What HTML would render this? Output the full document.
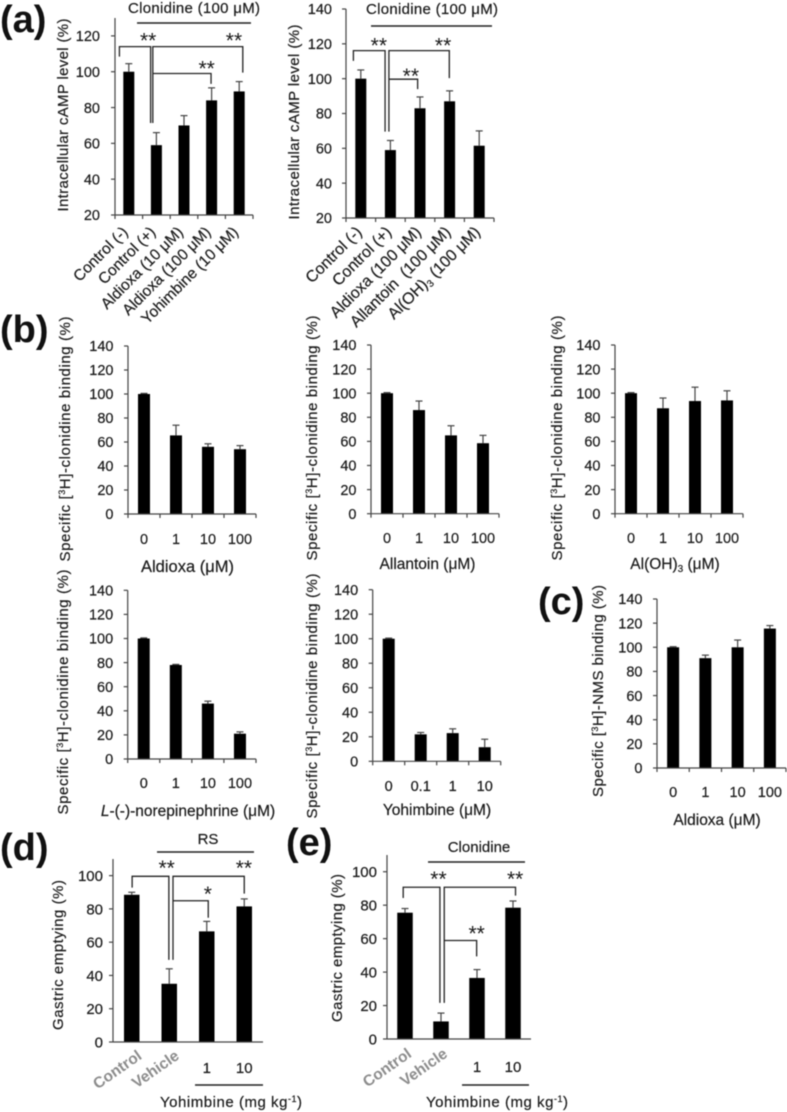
<!DOCTYPE html>
<html>
<head>
<meta charset="utf-8">
<title>Clonidine binding figure</title>
<style>
html,body{margin:0;padding:0;background:#fff;width:787px;height:1112px;overflow:hidden}
svg{display:block;filter:blur(0.45px)}
text{font-family:"Liberation Sans",sans-serif;fill:#1a1a1a;stroke:#1a1a1a;stroke-width:0.2px}
.letter{font-size:38px;font-weight:bold;fill:#111;stroke:none}
.title{font-size:15px}
.xt{font-size:15.5px}
</style>
</head>
<body>
<svg id="figure" width="787" height="1112" viewBox="0 0 787 1112" xmlns="http://www.w3.org/2000/svg">
  <text class="letter" x="0" y="32">(a)</text>
  <text class="letter" x="0" y="342">(b)</text>
  <text class="letter" x="538" y="614">(c)</text>
  <text class="letter" x="0" y="860">(d)</text>
  <text class="letter" x="286" y="855">(e)</text>

  <text class="title" transform="translate(68,115) rotate(-90)" text-anchor="middle" textLength="193">Intracellular cAMP level (%)</text>
  <text class="title" transform="translate(299,122) rotate(-90)" text-anchor="middle" textLength="195">Intracellular cAMP level (%)</text>
  <text class="title" transform="translate(70,439) rotate(-90)" text-anchor="middle" textLength="245">Specific [<tspan dy="-5" font-size="9">3</tspan><tspan dy="5">H]-clonidine binding (%)</tspan></text>
  <text class="title" transform="translate(317,438) rotate(-90)" text-anchor="middle" textLength="245">Specific [<tspan dy="-5" font-size="9">3</tspan><tspan dy="5">H]-clonidine binding (%)</tspan></text>
  <text class="title" transform="translate(562,438) rotate(-90)" text-anchor="middle" textLength="245">Specific [<tspan dy="-5" font-size="9">3</tspan><tspan dy="5">H]-clonidine binding (%)</tspan></text>
  <text class="title" transform="translate(68,692) rotate(-90)" text-anchor="middle" textLength="245">Specific [<tspan dy="-5" font-size="9">3</tspan><tspan dy="5">H]-clonidine binding (%)</tspan></text>
  <text class="title" transform="translate(317,696) rotate(-90)" text-anchor="middle" textLength="245">Specific [<tspan dy="-5" font-size="9">3</tspan><tspan dy="5">H]-clonidine binding (%)</tspan></text>
  <text class="title" transform="translate(603,691) rotate(-90)" text-anchor="middle" textLength="212">Specific [<tspan dy="-5" font-size="9">3</tspan><tspan dy="5">H]-NMS binding (%)</tspan></text>
  <text class="title" transform="translate(63,955) rotate(-90)" text-anchor="middle" textLength="150">Gastric emptying (%)</text>
  <text class="title" transform="translate(342,948) rotate(-90)" text-anchor="middle" textLength="148">Gastric emptying (%)</text>

  <text class="xt" x="187.5" y="572" text-anchor="middle" font-size="16.5" style="font-size:16.5px">Aldioxa (μM)</text>
  <text class="xt" x="427.5" y="569" text-anchor="middle">Allantoin (μM)</text>
  <text class="xt" x="675" y="569" text-anchor="middle">Al(OH)<tspan dy="3" font-size="10">3</tspan><tspan dy="-3"> (μM)</tspan></text>
  <text class="xt" x="188" y="816" text-anchor="middle"><tspan font-style="italic">L</tspan>-(-)-norepinephrine (μM)</text>
  <text class="xt" x="437" y="815" text-anchor="middle">Yohimbine (μM)</text>
  <text class="xt" x="717" y="825" text-anchor="middle">Aldioxa (μM)</text>
  <text class="title" x="231" y="1107" text-anchor="middle" textLength="142">Yohimbine (mg kg<tspan dy="-5" font-size="9">-1</tspan><tspan dy="5">)</tspan></text>
  <text class="title" x="497" y="1107" text-anchor="middle" textLength="142">Yohimbine (mg kg<tspan dy="-5" font-size="9">-1</tspan><tspan dy="5">)</tspan></text>

  <text class="title" x="194" y="13" text-anchor="middle" textLength="132">Clonidine (100 μM)</text>
  <line x1="137" x2="251" y1="23" y2="23" stroke="#222" stroke-width="1.5"/>
  <text class="title" x="432" y="14" text-anchor="middle" textLength="132">Clonidine (100 μM)</text>
  <line x1="371" x2="492" y1="26" y2="26" stroke="#222" stroke-width="1.5"/>
  <text class="title" x="208" y="844" text-anchor="middle">RS</text>
  <line x1="157" x2="254" y1="852" y2="852" stroke="#222" stroke-width="1.5"/>
  <text class="title" x="479" y="852" text-anchor="middle">Clonidine</text>
  <line x1="428" x2="525" y1="862" y2="862" stroke="#222" stroke-width="1.5"/>
  <line x1="195" x2="263" y1="1085" y2="1085" stroke="#222" stroke-width="1.5"/>
  <line x1="462" x2="529" y1="1085" y2="1085" stroke="#222" stroke-width="1.5"/>
</svg>
<script>
// ---- tick labels ----
var a1Ticks = [20, 40, 60, 80, 100, 120];
var a2Ticks = [20, 40, 60, 80, 100, 120, 140];
var bTicks = [0, 20, 40, 60, 80, 100, 120, 140];
var deTicks = [0, 20, 40, 60, 80, 100];

// ---- panel a ----
var a1Categories = ['Control (-)', 'Control (+)', 'Aldioxa (10 μM)', 'Aldioxa (100 μM)', 'Yohimbine (10 μM)'];
var a1Values = [100, 59, 70, 84, 89];
var a1Errors = [4.5, 7, 5.5, 7, 5.5];
var a1Brackets = [[-0.34, 0.79, 114, 108.4, 71.4], [0.87, 4.13, 114, 71.4, 99.5], [0.87, 2.98, 99, 99, 93.2]];
var a1Stars = [[0.70, 118.9, '**'], [3.81, 118.9, '**'], [2.82, 103.2, '**']];

var a2Categories = ['Control (-)', 'Control (+)', 'Aldioxa (100 μM)', 'Allantoin\u00a0 (100 μM)', 'Al(OH)<tspan dy="3" font-size="10">3</tspan><tspan dy="-3"> (100 μM)</tspan>'];
var a2Values = [100, 59, 83, 87, 61.5];
var a2Errors = [5, 5.5, 6.5, 6, 8.5];
var a2Brackets = [[-0.25, 0.82, 116.1, 110.2, 69.6], [0.95, 2.99, 116.1, 69.6, 100.3], [0.95, 1.92, 99.7, 99.7, 94]];
var a2Stars = [[0.61, 120.6, '**'], [2.78, 120.6, '**'], [1.69, 103, '**']];

// ---- panel b ----
var b1Categories = ['0', '1', '10', '100'];
var b1Values = [100, 65.5, 56, 54];
var b1Errors = [0.5, 8.5, 2.5, 3];
var b2Categories = ['0', '1', '10', '100'];
var b2Values = [100, 86, 65, 58.5];
var b2Errors = [0.5, 7.5, 8, 6.5];
var b3Categories = ['0', '1', '10', '100'];
var b3Values = [100, 87.5, 93.5, 94];
var b3Errors = [0.5, 8.5, 11.5, 8];
var b4Categories = ['0', '1', '10', '100'];
var b4Values = [100, 78, 46, 21];
var b4Errors = [0.5, 0.5, 2, 1.5];
var b5Categories = ['0', '0.1', '1', '10'];
var b5Values = [100, 22, 23, 11.5];
var b5Errors = [0.5, 1.5, 3.5, 6.5];

// ---- panel c ----
var cCategories = ['0', '1', '10', '100'];
var cValues = [100, 91, 100, 115.5];
var cErrors = [0.5, 2.5, 6, 2.5];

// ---- panel d ----
var dCategories = ['Control', 'Vehicle', '1', '10'];
var dValues = [88.5, 35, 66.5, 81.5];
var dErrors = [1.5, 9, 6, 4.5];
var dBrackets = [[0.01, 0.99, 99.6, 92.8, 49.4], [1.1, 3, 99.6, 49.4, 89.2], [1.1, 2.04, 84.9, 84.9, 74.7]];
var dStars = [[0.93, 106, '**'], [2.99, 106, '**'], [2.03, 90.5, '*']];

// ---- panel e ----
var eCategories = ['Control', 'Vehicle', '1', '10'];
var eValues = [75.5, 10.5, 36.5, 78.5];
var eErrors = [2.5, 5, 5, 4];
var eBrackets = [[-0.05, 0.97, 90.7, 84.3, 21.6], [1.09, 3.07, 90.7, 21.6, 85.7], [1.09, 1.99, 58.9, 58.9, 49.4]];
var eStars = [[0.93, 97.2, '**'], [3.06, 97.2, '**'], [1.99, 64.5, '**']];

var NS = 'http://www.w3.org/2000/svg';
var figure = document.getElementById('figure');

function mk(parent, tag, attrs) {
  var el = document.createElementNS(NS, tag);
  for (var k in attrs) { el.setAttribute(k, attrs[k]); }
  parent.appendChild(el);
  return el;
}

function drawChart(id, cats, values, errors, ticks, L, brackets, stars) {
  var g = mk(figure, 'g', {});
  
  

  var step = (L.x1 - L.x0) / cats.length;
  function cx(i) { return L.x0 + (i + 0.5) * step; }
  function vy(v) { return L.yBase + (v - L.vMin) * (L.yTop - L.yBase) / (L.vMax - L.vMin); }

  // bars and error bars
  values.forEach(function (v, i) {
    var top = vy(v);
    var errTop = vy(v + errors[i]);
    var stem = mk(g, 'line', { x1: cx(i), x2: cx(i), y1: top, y2: errTop, stroke: '#444', 'stroke-width': 1.2 });
    
    
    var cap = mk(g, 'line', { x1: cx(i) - L.cap, x2: cx(i) + L.cap, y1: errTop, y2: errTop, stroke: '#444', 'stroke-width': 1.2 });
    
    
    var bar = mk(g, 'rect', { x: cx(i) - L.bar / 2, y: top, width: L.bar, height: L.yBase - top, fill: '#000' });
    
    
  });

  // axes
  var yAxis = mk(g, 'line', { x1: L.x0, x2: L.x0, y1: L.yBase, y2: L.yTop, stroke: '#444', 'stroke-width': 1.2 });
  
  
  var xAxis = mk(g, 'line', { x1: L.x0, x2: L.x1, y1: L.yBase, y2: L.yBase, stroke: '#444', 'stroke-width': 1.2 });
  
  

  // y ticks and labels
  ticks.forEach(function (t) {
    var tk = mk(g, 'line', { x1: L.x0 - 4, x2: L.x0, y1: vy(t), y2: vy(t), stroke: '#444', 'stroke-width': 1.2 });
    
    
    var lb = mk(g, 'text', { x: L.x0 - L.tickGap, y: vy(t) + L.tickFont * 0.36, 'text-anchor': 'end', 'font-size': L.tickFont });
    
    
    lb.textContent = t;
  });

  // x ticks
  if (L.xTicks) {
    for (var k = 0; k <= cats.length; k++) {
      var xt = mk(g, 'line', { x1: L.x0 + k * step, x2: L.x0 + k * step, y1: L.yBase, y2: L.yBase + 4, stroke: '#444', 'stroke-width': 1.2 });
      
      
    }
  }

  // category labels
  cats.forEach(function (c, i) {
    var lb;
    if (/^[0-9.]+$/.test(c)) {
      lb = mk(g, 'text', { x: cx(i), y: L.labelY, 'text-anchor': 'middle', 'font-size': L.labelFont });
    } else if (L.grayLabels) {
      var gx = cx(i) + L.grayDx;
      lb = mk(g, 'text', { transform: 'translate(' + gx + ',' + L.grayY + ') rotate(-35)', 'text-anchor': 'end', 'font-size': 15.5, 'font-weight': 'bold', style: 'fill:#8c8c8c;stroke:none' });
    } else {
      lb = mk(g, 'text', { transform: 'translate(' + (cx(i) + L.rotDx) + ',' + L.labelY + ') rotate(-45)', 'text-anchor': 'end', 'font-size': L.labelFont });
    }
    
    
    lb.innerHTML = c;
  });

  // significance brackets: [fromCategory, toCategory, level, endValueLeft, endValueRight]
  (brackets || []).forEach(function (b, i) {
    var x1 = cx(b[0]), x2 = cx(b[1]);
    var d = 'M' + x1 + ' ' + vy(b[3]) + 'L' + x1 + ' ' + vy(b[2]) + 'L' + x2 + ' ' + vy(b[2]) + 'L' + x2 + ' ' + vy(b[4]);
    var p = mk(g, 'path', { d: d, fill: 'none', stroke: '#222', 'stroke-width': 1.3 });
    
    
  });
  (stars || []).forEach(function (s, i) {
    var st = mk(g, 'text', { x: cx(s[0]), y: vy(s[1]) + 9.5, 'text-anchor': 'middle', 'font-size': 21, style: 'stroke:none' });
    
    
    st.textContent = s[2];
  });
}

drawChart('a1', a1Categories, a1Values, a1Errors, a1Ticks,
  { x0: 115, x1: 253, yBase: 215, yTop: 18, vMin: 20, vMax: 130, bar: 11, cap: 3.5, tickFont: 14.5, tickGap: 15, labelY: 233, labelFont: 15.5, rotDx: 0, xTicks: true },
  a1Brackets, a1Stars);
drawChart('a2', a2Categories, a2Values, a2Errors, a2Ticks,
  { x0: 346, x1: 494, yBase: 218, yTop: 9, vMin: 20, vMax: 140, bar: 11, cap: 3.5, tickFont: 14.5, tickGap: 14, labelY: 233, labelFont: 16, rotDx: 2, xTicks: true },
  a2Brackets, a2Stars);
drawChart('b1', b1Categories, b1Values, b1Errors, bTicks,
  { x0: 128, x1: 256, yBase: 514, yTop: 346, vMin: 0, vMax: 140, bar: 12, cap: 3.5, tickFont: 14.5, tickGap: 14.5, labelY: 544, labelFont: 14.5, xTicks: true });
drawChart('b2', b2Categories, b2Values, b2Errors, bTicks,
  { x0: 371, x1: 499, yBase: 513.7, yTop: 345, vMin: 0, vMax: 140, bar: 12, cap: 3.5, tickFont: 14.5, tickGap: 14.5, labelY: 543, labelFont: 14.5, xTicks: true });
drawChart('b3', b3Categories, b3Values, b3Errors, bTicks,
  { x0: 615, x1: 743, yBase: 513.7, yTop: 345, vMin: 0, vMax: 140, bar: 12, cap: 3.5, tickFont: 14.5, tickGap: 14.5, labelY: 543, labelFont: 14.5, xTicks: true });
drawChart('b4', b4Categories, b4Values, b4Errors, bTicks,
  { x0: 127.7, x1: 256, yBase: 759, yTop: 590.3, vMin: 0, vMax: 140, bar: 12, cap: 3.5, tickFont: 14.5, tickGap: 14.5, labelY: 788, labelFont: 14.5, xTicks: true });
drawChart('b5', b5Categories, b5Values, b5Errors, bTicks,
  { x0: 372.7, x1: 500.7, yBase: 761.3, yTop: 589.7, vMin: 0, vMax: 140, bar: 12, cap: 3.5, tickFont: 14.5, tickGap: 14.5, labelY: 791, labelFont: 14.5, xTicks: true });
drawChart('c', cCategories, cValues, cErrors, bTicks,
  { x0: 657, x1: 786, yBase: 768, yTop: 599, vMin: 0, vMax: 140, bar: 12, cap: 3.5, tickFont: 14.5, tickGap: 14.5, labelY: 797, labelFont: 14.5, xTicks: true });
drawChart('d', dCategories, dValues, dErrors, deTicks,
  { x0: 113, x1: 263, yBase: 1042, yTop: 859, vMin: 0, vMax: 110, bar: 15.5, cap: 3.5, tickFont: 15, tickGap: 10, labelY: 1073, labelFont: 15, grayLabels: true, grayDx: 11, grayY: 1058, xTicks: false },
  dBrackets, dStars);
drawChart('e', eCategories, eValues, eErrors, deTicks,
  { x0: 387, x1: 531, yBase: 1039, yTop: 855, vMin: 0, vMax: 110, bar: 15.5, cap: 3.5, tickFont: 15, tickGap: 10, labelY: 1072, labelFont: 15, grayLabels: true, grayDx: 7.5, grayY: 1056, xTicks: false },
  eBrackets, eStars);
</script>
</body>
</html>
